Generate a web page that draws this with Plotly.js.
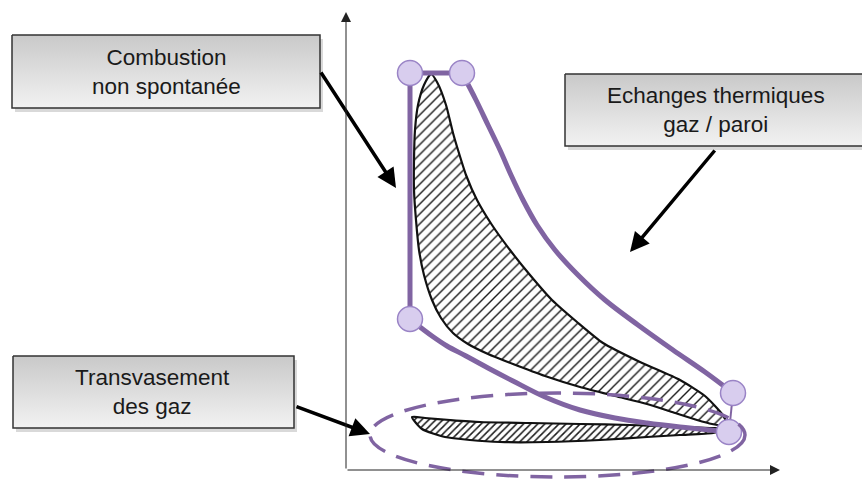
<!DOCTYPE html>
<html>
<head>
<meta charset="utf-8">
<script src="https://cdn.plot.ly/plotly-3.0.1.min.js"></script>
<style>html,body{margin:0;padding:0;background:#fff;}#chart{width:862px;height:482px;}</style>
</head>
<body>
<div id="chart"></div>
<script>
// ---- Data (diagram units: x to the right, y downward) ----
// Theoretical cycle (purple)
var compX = [729, 700, 680, 647, 615, 580, 545, 513, 488, 466, 447, 432, 420, 410];
var compY = [432, 429, 427, 423, 418, 410, 397, 381, 368, 356, 346, 336, 327, 319];
var expX = [462, 476, 488, 500, 511, 523, 537, 555, 578, 605, 638, 673, 705, 733];
var expY = [73, 100, 125, 150, 175, 200, 225, 250, 275, 300, 325, 350, 372, 393];
var sideX = [410, 410, 462];
var sideY = [319, 73, 73];
var endX = [733, 729];
var endY = [393, 432];
var cornerX = [410, 462, 733, 729, 410];
var cornerY = [73, 73, 393, 432, 319];

// Real cycle (hatched loop)
var realX = [431, 437, 446, 453, 458, 466, 477, 492, 510, 530, 552, 577, 603, 640, 680, 705, 722, 728,
             712, 697, 672, 647, 615, 580, 545, 513, 488, 468, 453, 441, 432, 424, 419, 416, 414, 414, 415, 418, 424, 431];
var realY = [74, 82, 105, 133, 150, 175, 200, 225, 250, 275, 300, 322, 343, 362, 380, 396, 414, 426,
             424, 420, 412, 404, 396, 387, 376, 364, 354, 344, 333, 318, 300, 275, 250, 220, 190, 160, 130, 105, 85, 74];

// Pumping loop (gas exchange)
var pumpX = [412, 425, 450, 480, 530, 580, 630, 680, 710, 728, 713, 680, 647, 600, 547, 500, 470, 445, 422, 412];
var pumpY = [417, 418, 420, 422, 423, 424, 425, 427, 428, 429, 433, 435, 437, 440, 442, 442, 440, 437, 429, 417];

// Ellipse around the pumping loop
var ellipseX = [370, 745];
var ellipseY = [393, 477];

// Axes of the diagram
var axisOrigin = [346, 470];
var axisXEnd = 780;
var axisYEnd = 12;

// Label boxes
var boxLabels = ["Combustion<br>non spontanée", "Echanges thermiques<br>gaz / paroi", "Transvasement<br>des gaz"];
var boxX0 = [12, 565, 13];
var boxX1 = [320, 867, 294];
var boxY0 = [35, 74, 356];
var boxY1 = [108, 146, 428];
var textX = [166, 716, 152];

// Arrows from boxes
var arrowTailX = [320, 716, 295];
var arrowTailY = [71, 149, 406];
var arrowHeadX = [396, 630, 370];
var arrowHeadY = [188, 252, 434];

var PURPLE = '#8064a2';
var traces = [];

// boxes (shadow + gradient fill)
for (var i = 0; i < boxLabels.length; i++) {
  var sx = 3, sy = 4;
  traces.push({
    x: [boxX0[i]+sx, boxX1[i]+sx, boxX1[i]+sx, boxX0[i]+sx, boxX0[i]+sx],
    y: [boxY0[i]+sy, boxY0[i]+sy, boxY1[i]+sy, boxY1[i]+sy, boxY0[i]+sy],
    mode: 'lines', fill: 'toself', fillcolor: 'rgba(0,0,0,0.15)',
    line: {width: 0, color: 'rgba(0,0,0,0)'}, hoverinfo: 'skip', showlegend: false
  });
  traces.push({
    x: [boxX0[i], boxX1[i], boxX1[i], boxX0[i], boxX0[i]],
    y: [boxY0[i], boxY0[i], boxY1[i], boxY1[i], boxY0[i]],
    mode: 'lines', fill: 'toself',
    fillgradient: {type: 'vertical', colorscale: [[0, '#f2f2f2'], [1, '#c9c9c9']]},
    line: {width: 1.5, color: '#333'}, hoverinfo: 'skip', showlegend: false
  });
}

// real hatched loop
traces.push({
  x: realX, y: realY, mode: 'lines', fill: 'toself', fillcolor: 'white',
  fillpattern: {shape: '/', size: 7, solidity: 0.2, fgcolor: '#1a1a1a', bgcolor: 'white'},
  line: {color: '#111', width: 2.2, shape: 'spline', smoothing: 0.6}, hoverinfo: 'skip', showlegend: false
});
// pumping loop
traces.push({
  x: pumpX, y: pumpY, mode: 'lines', fill: 'toself', fillcolor: 'white',
  fillpattern: {shape: '/', size: 5, solidity: 0.3, fgcolor: '#1a1a1a', bgcolor: 'white'},
  line: {color: '#111', width: 2.2, shape: 'spline', smoothing: 0.6}, hoverinfo: 'skip', showlegend: false
});

// theoretical cycle
traces.push({x: compX, y: compY, mode: 'lines', line: {color: PURPLE, width: 5, shape: 'spline'}, hoverinfo: 'skip', showlegend: false});
traces.push({x: expX, y: expY, mode: 'lines', line: {color: PURPLE, width: 5, shape: 'spline'}, hoverinfo: 'skip', showlegend: false});
traces.push({x: sideX, y: sideY, mode: 'lines', line: {color: PURPLE, width: 5}, hoverinfo: 'skip', showlegend: false});
traces.push({x: endX, y: endY, mode: 'lines', line: {color: PURPLE, width: 2}, hoverinfo: 'skip', showlegend: false});
traces.push({
  x: cornerX, y: cornerY, mode: 'markers',
  marker: {size: 25, color: '#d8cdee', line: {color: '#9a84c6', width: 1.5}},
  hoverinfo: 'skip', showlegend: false
});

var annotations = [];
for (var j = 0; j < boxLabels.length; j++) {
  annotations.push({
    x: textX[j], y: (boxY0[j] + boxY1[j]) / 2, xref: 'x', yref: 'y', showarrow: false,
    text: boxLabels[j], align: 'center',
    font: {family: 'Liberation Sans, Arial, sans-serif', size: 22.5, color: '#1a1a1a'}
  });
  annotations.push({
    x: arrowHeadX[j], y: arrowHeadY[j], ax: arrowTailX[j], ay: arrowTailY[j],
    xref: 'x', yref: 'y', axref: 'x', ayref: 'y', text: '', showarrow: true,
    arrowhead: 2, arrowsize: 1.1, arrowwidth: 3.5, arrowcolor: '#000'
  });
}
// axes arrows
annotations.push({x: axisOrigin[0], y: axisYEnd, ax: axisOrigin[0], ay: axisOrigin[1], xref: 'x', yref: 'y', axref: 'x', ayref: 'y',
  text: '', showarrow: true, arrowhead: 2, arrowsize: 2, arrowwidth: 1, arrowcolor: '#222'});
annotations.push({x: axisXEnd, y: axisOrigin[1], ax: axisOrigin[0], ay: axisOrigin[1], xref: 'x', yref: 'y', axref: 'x', ayref: 'y',
  text: '', showarrow: true, arrowhead: 2, arrowsize: 2, arrowwidth: 1, arrowcolor: '#222'});

var layout = {
  width: 862, height: 482,
  margin: {l: 0, r: 0, t: 0, b: 0},
  paper_bgcolor: 'white', plot_bgcolor: 'white',
  xaxis: {range: [0, 862], visible: false, fixedrange: true},
  yaxis: {range: [482, 0], visible: false, fixedrange: true},
  showlegend: false,
  annotations: annotations,
  shapes: [{
    type: 'circle', xref: 'x', yref: 'y',
    x0: ellipseX[0], x1: ellipseX[1], y0: ellipseY[0], y1: ellipseY[1],
    line: {color: PURPLE, width: 3.5, dash: '22px,12px'}, layer: 'above'
  }]
};

Plotly.newPlot('chart', traces, layout, {staticPlot: true, displayModeBar: false});
</script>
</body>
</html>
